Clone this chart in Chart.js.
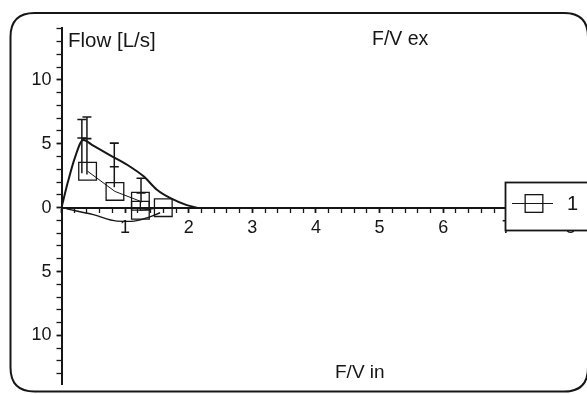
<!DOCTYPE html>
<html>
<head>
<meta charset="utf-8">
<title>F/V</title>
<script src="https://cdn.jsdelivr.net/npm/chart.js@4.4.1/dist/chart.umd.min.js"></script>
<style>
  html, body { margin: 0; padding: 0; background: #ffffff; }
  canvas { display: block; }
</style>
</head>
<body>
<canvas id="fv" width="587" height="394"></canvas>
<script>
// Expiratory envelope: volume [L] / flow [L/s]
const expVolume = [0, 0.10, 0.21, 0.34, 0.50, 0.80, 1.08, 1.29, 1.50, 1.72, 1.97, 2.13];
const expFlow   = [0, 2.0, 3.9, 5.3, 4.85, 4.0, 3.2, 2.45, 1.4, 0.72, 0.2, 0];

// Inspiratory curve (drawn below zero)
const inspVolume = [0.08, 0.50, 0.87, 1.10, 1.34, 1.55];
const inspFlow   = [-0.1, -0.55, -1.05, -1.07, -0.8, -0.4];

// Series "1": mean points
const seriesLabel  = '1';
const seriesVolume = [0.41, 0.84, 1.24, 1.24, 1.60];
const seriesFlow   = [2.85, 1.27, 0.5, -0.2, 0.0];

// Spread bars: position, lower end, middle cap, upper cap
const barVolume = [0.32, 0.40, 0.83, 1.25];
const barLow    = [2.7, 2.6, 1.6, 0.4];
const barMid    = [5.45, 5.4, 3.2, 1.15];
const barHigh   = [6.9, 7.1, 5.05, 2.3];

// Axis tick labels
const xTickValues = [1, 2, 3, 4, 5, 6, 7, 8];
const xTickText   = ['1', '2', '3', '4', '5', '6', '7', '8'];
const yTickValues = [10, 5, 0, -5, -10];
const yTickText   = ['10', '5', '0', '5', '10'];

// Panel captions
const captionFlow = 'Flow [L/s]';
const captionEx   = 'F/V ex';
const captionIn   = 'F/V in';

const INK = '#161616';
const FONT = '"Liberation Sans", Arial, Helvetica, sans-serif';

function toPoints(xs, ys) {
  return xs.map((x, i) => ({ x: x, y: ys[i] }));
}

// each bar: low -> mid -> high, then a gap
const barPoints = [];
barVolume.forEach((x, i) => {
  barPoints.push({ x: x, y: barLow[i], cap: false });
  barPoints.push({ x: x, y: barMid[i], cap: true });
  barPoints.push({ x: x, y: barHigh[i], cap: true });
  barPoints.push({ x: x, y: null, cap: false });
});

function labelFor(values, texts, v) {
  for (let i = 0; i < values.length; i++) {
    if (Math.abs(values[i] - v) < 1e-6) return texts[i];
  }
  return '';
}
function isWhole(v) { return Math.abs(v - Math.round(v)) < 1e-6; }

// Rounded frame around the panel
const framePlugin = {
  id: 'frame',
  beforeDraw(chart) {
    const ctx = chart.ctx;
    const l = 10.5, t = 13, r = 588, b = 391.5, rad = 24;
    ctx.save();
    ctx.strokeStyle = INK;
    ctx.lineWidth = 2;
    ctx.beginPath();
    ctx.moveTo(l + rad, t);
    ctx.lineTo(r - rad, t);
    ctx.quadraticCurveTo(r, t, r, t + rad);
    ctx.lineTo(r, b - rad);
    ctx.quadraticCurveTo(r, b, r - rad, b);
    ctx.lineTo(l + rad, b);
    ctx.quadraticCurveTo(l, b, l, b - rad);
    ctx.lineTo(l, t + rad);
    ctx.quadraticCurveTo(l, t, l + rad, t);
    ctx.stroke();
    ctx.restore();
  }
};

// Captions and the series key box
const captionPlugin = {
  id: 'captions',
  afterDraw(chart) {
    const ctx = chart.ctx;
    ctx.save();
    ctx.fillStyle = INK;
    ctx.textBaseline = 'alphabetic';
    ctx.textAlign = 'left';
    ctx.font = '20.5px ' + FONT;
    ctx.fillText(captionFlow, 68, 47);
    ctx.font = '19.5px ' + FONT;
    ctx.fillText(captionEx, 372, 45);
    ctx.font = '19px ' + FONT;
    ctx.fillText(captionIn, 335, 378);

    // key box
    const ds = chart.data.datasets[3];
    const bx = 505.5, by = 182.5, bw = 90, bh = 48;
    ctx.fillStyle = '#ffffff';
    ctx.fillRect(bx, by, bw, bh);
    ctx.strokeStyle = INK;
    ctx.lineWidth = 1.8;
    ctx.strokeRect(bx, by, bw, bh);
    const cy = by + 21;
    ctx.lineWidth = ds.borderWidth;
    ctx.beginPath();
    ctx.moveTo(512, cy);
    ctx.lineTo(553, cy);
    ctx.stroke();
    ctx.lineWidth = ds.pointBorderWidth;
    const s = Math.SQRT1_2 * ds.pointRadius;
    ctx.strokeRect(534 - s, cy - s, 2 * s, 2 * s);
    ctx.fillStyle = INK;
    ctx.font = '20px ' + FONT;
    ctx.textAlign = 'left';
    ctx.textBaseline = 'middle';
    ctx.fillText(ds.label, 567, cy + 1);
    ctx.restore();
  }
};

new Chart(document.getElementById('fv'), {
  type: 'scatter',
  data: {
    datasets: [
      {
        label: 'ex',
        data: toPoints(expVolume, expFlow),
        showLine: true,
        borderColor: INK,
        borderWidth: 2,
        pointRadius: 0,
        cubicInterpolationMode: 'monotone'
      },
      {
        label: 'in',
        data: toPoints(inspVolume, inspFlow),
        showLine: true,
        borderColor: INK,
        borderWidth: 1.4,
        pointRadius: 0,
        cubicInterpolationMode: 'monotone'
      },
      {
        label: 'sd',
        data: barPoints,
        showLine: true,
        spanGaps: false,
        borderColor: INK,
        borderWidth: 1.5,
        pointStyle: 'line',
        pointRadius: (c) => (c.raw && c.raw.cap ? 4.5 : 0),
        pointBorderColor: INK,
        pointBorderWidth: 1.6
      },
      {
        label: seriesLabel,
        data: toPoints(seriesVolume, seriesFlow),
        showLine: true,
        borderColor: INK,
        borderWidth: 1,
        pointStyle: 'rect',
        pointRadius: 12.5,
        pointBorderWidth: 1.3,
        pointBorderColor: INK,
        pointBackgroundColor: 'rgba(0,0,0,0)'
      }
    ]
  },
  options: {
    responsive: false,
    animation: false,
    devicePixelRatio: 1,
    layout: { autoPadding: false, padding: { left: 0, top: 28, right: 0, bottom: 10 } },
    plugins: {
      legend: { display: false },
      tooltip: { enabled: false }
    },
    scales: {
      x: {
        type: 'linear',
        min: 0,
        max: 8.26,
        position: { y: 0 },
        border: { display: true, color: INK, width: 2 },
        grid: {
          display: true,
          drawOnChartArea: false,
          drawTicks: true,
          tickLength: 4,
          tickColor: INK,
          tickWidth: (c) => (isWhole(c.tick.value) ? 1.8 : 1.3)
        },
        ticks: {
          stepSize: 0.2,
          autoSkip: false,
          maxRotation: 0,
          includeBounds: false,
          padding: 6,
          color: INK,
          font: { family: FONT, size: 18 },
          callback: (v) => (isWhole(v) ? labelFor(xTickValues, xTickText, Math.round(v)) : '')
        },
        afterFit(scale) {
          scale.paddingLeft = 0; scale.paddingRight = 0;
          scale.paddingTop = 0; scale.paddingBottom = 0;
        }
      },
      y: {
        type: 'linear',
        min: -13.8,
        max: 14.06,
        position: 'left',
        border: { display: true, color: INK, width: 2 },
        grid: {
          display: true,
          drawOnChartArea: false,
          drawTicks: true,
          tickLength: 5,
          tickColor: INK,
          tickWidth: (c) => (c.tick.value % 5 === 0 ? 1.8 : 1.3)
        },
        ticks: {
          stepSize: 1,
          autoSkip: false,
          includeBounds: false,
          padding: 5,
          color: INK,
          font: { family: FONT, size: 18 },
          callback: (v) => labelFor(yTickValues, yTickText, v)
        },
        afterFit(scale) {
          scale.width = 61.5;
          scale.paddingTop = 0; scale.paddingBottom = 0;
          scale.paddingLeft = 0; scale.paddingRight = 0;
        }
      }
    }
  },
  plugins: [framePlugin, captionPlugin]
});
</script>
</body>
</html>
